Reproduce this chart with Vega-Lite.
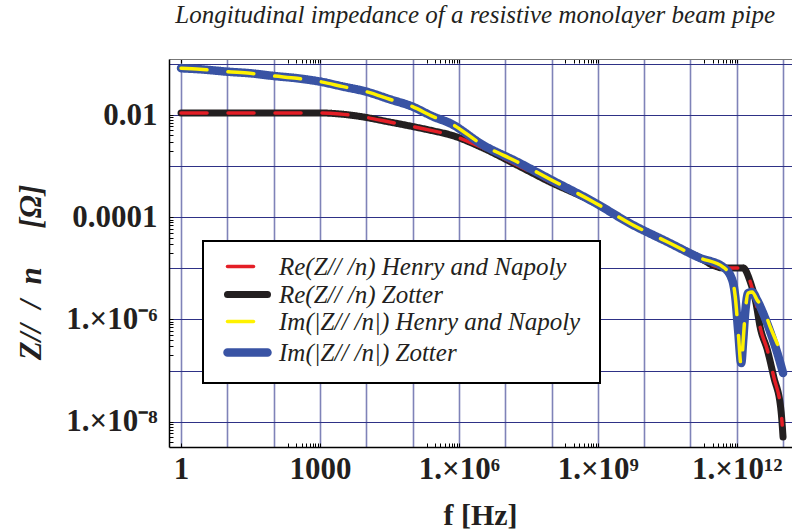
{
  "$schema": "https://vega.github.io/schema/vega-lite/v6.json",
  "width": 623,
  "height": 388,
  "autosize": "none",
  "padding": {"left": 169, "top": 59, "right": 0, "bottom": 84},
  "background": "white",
  "title": {"text": "Longitudinal impedance of a resistive monolayer beam pipe", "anchor": "end", "frame": "group", "font": "Liberation Serif", "fontStyle": "italic", "fontWeight": "normal", "fontSize": 25, "color": "#231f20", "baseline": "alphabetic", "offset": 0, "dx": -17},
  "data": {"values": [
    {"series": "Re(Z// /n)  Zotter", "f": 1, "z": 0.011},
    {"series": "Re(Z// /n)  Zotter", "f": 31, "z": 0.011},
    {"series": "Re(Z// /n)  Zotter", "f": 1000, "z": 0.011},
    {"series": "Re(Z// /n)  Zotter", "f": 2700, "z": 0.0105},
    {"series": "Re(Z// /n)  Zotter", "f": 8500, "z": 0.0092},
    {"series": "Re(Z// /n)  Zotter", "f": 32000, "z": 0.0073},
    {"series": "Re(Z// /n)  Zotter", "f": 89000, "z": 0.0061},
    {"series": "Re(Z// /n)  Zotter", "f": 280000, "z": 0.0049},
    {"series": "Re(Z// /n)  Zotter", "f": 650000, "z": 0.0041},
    {"series": "Re(Z// /n)  Zotter", "f": 3.3e6, "z": 0.00227},
    {"series": "Re(Z// /n)  Zotter", "f": 1.8e7, "z": 0.00105},
    {"series": "Re(Z// /n)  Zotter", "f": 9.3e7, "z": 4.9e-4},
    {"series": "Re(Z// /n)  Zotter", "f": 7.9e8, "z": 2.0e-4},
    {"series": "Re(Z// /n)  Zotter", "f": 5.2e9, "z": 7.4e-5},
    {"series": "Re(Z// /n)  Zotter", "f": 3.2e10, "z": 3.29e-5},
    {"series": "Re(Z// /n)  Zotter", "f": 1.6e11, "z": 1.6e-5},
    {"series": "Re(Z// /n)  Zotter", "f": 3.4e11, "z": 1.11e-5},
    {"series": "Re(Z// /n)  Zotter", "f": 5.1e11, "z": 1.02e-5},
    {"series": "Re(Z// /n)  Zotter", "f": 1.38e12, "z": 1.02e-5},
    {"series": "Re(Z// /n)  Zotter", "f": 1.9e12, "z": 5.9e-6},
    {"series": "Re(Z// /n)  Zotter", "f": 2.6e12, "z": 2.1e-6},
    {"series": "Re(Z// /n)  Zotter", "f": 3.2e12, "z": 7.1e-7},
    {"series": "Re(Z// /n)  Zotter", "f": 4.6e12, "z": 2.5e-7},
    {"series": "Re(Z// /n)  Zotter", "f": 6.3e12, "z": 7.5e-8},
    {"series": "Re(Z// /n)  Zotter", "f": 9.0e12, "z": 1.69e-8},
    {"series": "Re(Z// /n)  Zotter", "f": 1.0e13, "z": 5.0e-9},

    {"series": "Re(Z// /n)  Henry and Napoly", "f": 1, "z": 0.011},
    {"series": "Re(Z// /n)  Henry and Napoly", "f": 31, "z": 0.011},
    {"series": "Re(Z// /n)  Henry and Napoly", "f": 1000, "z": 0.011},
    {"series": "Re(Z// /n)  Henry and Napoly", "f": 2700, "z": 0.0105},
    {"series": "Re(Z// /n)  Henry and Napoly", "f": 8500, "z": 0.0092},
    {"series": "Re(Z// /n)  Henry and Napoly", "f": 32000, "z": 0.0073},
    {"series": "Re(Z// /n)  Henry and Napoly", "f": 89000, "z": 0.0061},
    {"series": "Re(Z// /n)  Henry and Napoly", "f": 280000, "z": 0.0049},
    {"series": "Re(Z// /n)  Henry and Napoly", "f": 650000, "z": 0.0041},
    {"series": "Re(Z// /n)  Henry and Napoly", "f": 3.3e6, "z": 0.00227},
    {"series": "Re(Z// /n)  Henry and Napoly", "f": 1.8e7, "z": 0.00105},
    {"series": "Re(Z// /n)  Henry and Napoly", "f": 9.3e7, "z": 4.9e-4},
    {"series": "Re(Z// /n)  Henry and Napoly", "f": 7.9e8, "z": 2.0e-4},
    {"series": "Re(Z// /n)  Henry and Napoly", "f": 5.2e9, "z": 7.4e-5},
    {"series": "Re(Z// /n)  Henry and Napoly", "f": 3.2e10, "z": 3.29e-5},
    {"series": "Re(Z// /n)  Henry and Napoly", "f": 1.6e11, "z": 1.6e-5},
    {"series": "Re(Z// /n)  Henry and Napoly", "f": 3.4e11, "z": 1.11e-5},
    {"series": "Re(Z// /n)  Henry and Napoly", "f": 5.1e11, "z": 1.02e-5},
    {"series": "Re(Z// /n)  Henry and Napoly", "f": 1.38e12, "z": 1.02e-5},
    {"series": "Re(Z// /n)  Henry and Napoly", "f": 1.9e12, "z": 5.9e-6},
    {"series": "Re(Z// /n)  Henry and Napoly", "f": 2.6e12, "z": 2.1e-6},
    {"series": "Re(Z// /n)  Henry and Napoly", "f": 3.2e12, "z": 7.1e-7},
    {"series": "Re(Z// /n)  Henry and Napoly", "f": 4.6e12, "z": 2.5e-7},
    {"series": "Re(Z// /n)  Henry and Napoly", "f": 6.3e12, "z": 7.5e-8},
    {"series": "Re(Z// /n)  Henry and Napoly", "f": 9.0e12, "z": 1.69e-8},
    {"series": "Re(Z// /n)  Henry and Napoly", "f": 9.6e12, "z": 8.6e-9},

    {"series": "Im(|Z// /n|)  Zotter", "f": 1, "z": 0.0824},
    {"series": "Im(|Z// /n|)  Zotter", "f": 2.57, "z": 0.0787},
    {"series": "Im(|Z// /n|)  Zotter", "f": 10, "z": 0.0706},
    {"series": "Im(|Z// /n|)  Zotter", "f": 31, "z": 0.0657},
    {"series": "Im(|Z// /n|)  Zotter", "f": 100, "z": 0.0582},
    {"series": "Im(|Z// /n|)  Zotter", "f": 320, "z": 0.0525},
    {"series": "Im(|Z// /n|)  Zotter", "f": 1000, "z": 0.0451},
    {"series": "Im(|Z// /n|)  Zotter", "f": 3160, "z": 0.036},
    {"series": "Im(|Z// /n|)  Zotter", "f": 10000, "z": 0.0287},
    {"series": "Im(|Z// /n|)  Zotter", "f": 32000, "z": 0.0204},
    {"series": "Im(|Z// /n|)  Zotter", "f": 100000, "z": 0.0146},
    {"series": "Im(|Z// /n|)  Zotter", "f": 280000, "z": 0.0093},
    {"series": "Im(|Z// /n|)  Zotter", "f": 650000, "z": 0.0069},
    {"series": "Im(|Z// /n|)  Zotter", "f": 3.3e6, "z": 0.0026},
    {"series": "Im(|Z// /n|)  Zotter", "f": 1.8e7, "z": 0.00122},
    {"series": "Im(|Z// /n|)  Zotter", "f": 1e8, "z": 5.37e-4},
    {"series": "Im(|Z// /n|)  Zotter", "f": 7.9e8, "z": 2.02e-4},
    {"series": "Im(|Z// /n|)  Zotter", "f": 5.2e9, "z": 7.4e-5},
    {"series": "Im(|Z// /n|)  Zotter", "f": 3.2e10, "z": 3.29e-5},
    {"series": "Im(|Z// /n|)  Zotter", "f": 1.6e11, "z": 1.6e-5},
    {"series": "Im(|Z// /n|)  Zotter", "f": 5.1e11, "z": 1.06e-5},
    {"series": "Im(|Z// /n|)  Zotter", "f": 8.0e11, "z": 5.9e-6},
    {"series": "Im(|Z// /n|)  Zotter", "f": 9.3e11, "z": 2.75e-6},
    {"series": "Im(|Z// /n|)  Zotter", "f": 1.07e12, "z": 6.2e-7},
    {"series": "Im(|Z// /n|)  Zotter", "f": 1.25e12, "z": 1.41e-7},
    {"series": "Im(|Z// /n|)  Zotter", "f": 1.38e12, "z": 3.97e-7},
    {"series": "Im(|Z// /n|)  Zotter", "f": 1.52e12, "z": 1.34e-6},
    {"series": "Im(|Z// /n|)  Zotter", "f": 1.77e12, "z": 3.3e-6},
    {"series": "Im(|Z// /n|)  Zotter", "f": 2.15e12, "z": 3.45e-6},
    {"series": "Im(|Z// /n|)  Zotter", "f": 2.75e12, "z": 2.41e-6},
    {"series": "Im(|Z// /n|)  Zotter", "f": 3.7e12, "z": 1.34e-6},
    {"series": "Im(|Z// /n|)  Zotter", "f": 5.3e12, "z": 5.7e-7},
    {"series": "Im(|Z// /n|)  Zotter", "f": 7.4e12, "z": 2.31e-7},
    {"series": "Im(|Z// /n|)  Zotter", "f": 1.0e13, "z": 8.97e-8},

    {"series": "Im(|Z// /n|)  Henry and Napoly", "f": 1, "z": 0.0824},
    {"series": "Im(|Z// /n|)  Henry and Napoly", "f": 2.57, "z": 0.0787},
    {"series": "Im(|Z// /n|)  Henry and Napoly", "f": 10, "z": 0.0706},
    {"series": "Im(|Z// /n|)  Henry and Napoly", "f": 31, "z": 0.0657},
    {"series": "Im(|Z// /n|)  Henry and Napoly", "f": 100, "z": 0.0582},
    {"series": "Im(|Z// /n|)  Henry and Napoly", "f": 320, "z": 0.0525},
    {"series": "Im(|Z// /n|)  Henry and Napoly", "f": 1000, "z": 0.0451},
    {"series": "Im(|Z// /n|)  Henry and Napoly", "f": 3160, "z": 0.036},
    {"series": "Im(|Z// /n|)  Henry and Napoly", "f": 10000, "z": 0.0287},
    {"series": "Im(|Z// /n|)  Henry and Napoly", "f": 32000, "z": 0.0204},
    {"series": "Im(|Z// /n|)  Henry and Napoly", "f": 100000, "z": 0.0146},
    {"series": "Im(|Z// /n|)  Henry and Napoly", "f": 280000, "z": 0.0093},
    {"series": "Im(|Z// /n|)  Henry and Napoly", "f": 650000, "z": 0.0069},
    {"series": "Im(|Z// /n|)  Henry and Napoly", "f": 3.3e6, "z": 0.0026},
    {"series": "Im(|Z// /n|)  Henry and Napoly", "f": 1.8e7, "z": 0.00122},
    {"series": "Im(|Z// /n|)  Henry and Napoly", "f": 1e8, "z": 5.37e-4},
    {"series": "Im(|Z// /n|)  Henry and Napoly", "f": 7.9e8, "z": 2.02e-4},
    {"series": "Im(|Z// /n|)  Henry and Napoly", "f": 5.2e9, "z": 7.4e-5},
    {"series": "Im(|Z// /n|)  Henry and Napoly", "f": 3.2e10, "z": 3.29e-5},
    {"series": "Im(|Z// /n|)  Henry and Napoly", "f": 1.6e11, "z": 1.6e-5},
    {"series": "Im(|Z// /n|)  Henry and Napoly", "f": 5.1e11, "z": 1.06e-5},
    {"series": "Im(|Z// /n|)  Henry and Napoly", "f": 8.0e11, "z": 5.9e-6},
    {"series": "Im(|Z// /n|)  Henry and Napoly", "f": 9.3e11, "z": 2.75e-6},
    {"series": "Im(|Z// /n|)  Henry and Napoly", "f": 1.07e12, "z": 6.2e-7},
    {"series": "Im(|Z// /n|)  Henry and Napoly", "f": 1.25e12, "z": 1.23e-7},
    {"series": "Im(|Z// /n|)  Henry and Napoly", "f": 1.38e12, "z": 3.97e-7},
    {"series": "Im(|Z// /n|)  Henry and Napoly", "f": 1.52e12, "z": 1.34e-6},
    {"series": "Im(|Z// /n|)  Henry and Napoly", "f": 1.77e12, "z": 3.3e-6},
    {"series": "Im(|Z// /n|)  Henry and Napoly", "f": 2.15e12, "z": 3.45e-6},
    {"series": "Im(|Z// /n|)  Henry and Napoly", "f": 2.75e12, "z": 2.41e-6},
    {"series": "Im(|Z// /n|)  Henry and Napoly", "f": 3.7e12, "z": 1.68e-6},
    {"series": "Im(|Z// /n|)  Henry and Napoly", "f": 5.3e12, "z": 7.1e-7},
    {"series": "Im(|Z// /n|)  Henry and Napoly", "f": 7.4e12, "z": 3.47e-7},
    {"series": "Im(|Z// /n|)  Henry and Napoly", "f": 1.0e13, "z": 1.77e-7}
  ]},
  "resolve": {"scale": {"x": "independent", "y": "independent"}, "axis": {"x": "independent", "y": "independent"}},
  "layer": [
    {
      "encoding": {
        "x": {"field": "f", "type": "quantitative", "scale": {"type": "log", "domain": [0.55, 1.56e13], "nice": false},
          "axis": {"orient": "bottom", "values": [1, 10, 100, 1000, 10000, 100000, 1e6, 1e7, 1e8, 1e9, 1e10, 1e11, 1e12, 1e13],
            "labelExpr": "round(log(datum.value)/LN10)==0 ? '1' : round(log(datum.value)/LN10)==3 ? '1000' : round(log(datum.value)/LN10)==6 ? '1.×10⁶' : round(log(datum.value)/LN10)==9 ? '1.×10⁹' : round(log(datum.value)/LN10)==12 ? '1.×10¹²' : ''",
            "grid": true, "gridColor": "#7f83b8", "gridWidth": 1.6, "tickSize": 0, "domainColor": "#000000", "domainWidth": 1.5,
            "labelFont": "Liberation Serif", "labelFontWeight": "bold", "labelFontSize": 31, "labelColor": "#231f20", "labelPadding": 7, "labelFlush": false, "labelOverlap": false,
            "title": "f [Hz]", "titleFont": "Liberation Serif", "titleFontSize": 30, "titleFontWeight": "bold", "titleColor": "#231f20", "titleX": 311, "titleY": 77, "titleAlign": "center", "titleBaseline": "alphabetic"}},
        "y": {"field": "z", "type": "quantitative", "scale": {"type": "log", "domain": [3.2e-9, 0.125], "nice": false},
          "axis": {"orient": "left", "values": [0.1, 0.01, 0.001, 0.0001, 1e-5, 1e-6, 1e-7, 1e-8],
            "labelExpr": "round(log(datum.value)/LN10)==-2 ? '0.01' : round(log(datum.value)/LN10)==-4 ? '0.0001' : round(log(datum.value)/LN10)==-6 ? '1.×10⁻⁶' : round(log(datum.value)/LN10)==-8 ? '1.×10⁻⁸' : ''",
            "grid": true, "gridColor": "#2e3186", "gridWidth": 1.2, "tickSize": 0, "domainColor": "#000000", "domainWidth": 1.5,
            "labelFont": "Liberation Serif", "labelFontWeight": "bold", "labelFontSize": 31, "labelColor": "#231f20", "labelPadding": 12, "labelFlush": false, "labelOverlap": false,
            "title": "Z//\u00a0\u00a0/\u00a0\u00a0n\u00a0\u00a0\u00a0\u00a0\u00a0[Ω]", "titleFont": "Liberation Serif", "titleFontSize": 31, "titleFontWeight": "bold", "titleFontStyle": "italic", "titleColor": "#231f20", "titleAngle": 270, "titleX": -138, "titleY": 213, "titleAlign": "center", "titleBaseline": "middle"}},
        "color": {"field": "series", "type": "nominal",
          "scale": {"domain": ["Re(Z// /n)  Henry and Napoly", "Re(Z// /n)  Zotter", "Im(|Z// /n|)  Henry and Napoly", "Im(|Z// /n|)  Zotter"], "range": ["#e41e26", "#231f20", "#fff200", "#3953a4"]},
          "legend": {"orient": "none", "legendX": 34, "legendY": 182, "title": null, "fillColor": "white", "strokeColor": "black", "padding": 13,
            "symbolType": "M-2.5,0L2.5,0", "symbolSize": 256, "symbolOffset": 19, "labelOffset": 19, "rowPadding": 0,
            "labelFont": "Liberation Serif", "labelFontStyle": "italic", "labelFontSize": 25, "labelColor": "#231f20", "labelLimit": 500,
            "labelExpr": "datum.label + '\u00a0\u00a0\u00a0\u00a0\u00a0\u00a0'",
            "encode": {"legend": {"update": {"strokeWidth": {"value": 2}}},
              "symbols": {"update": {"strokeDash": {"signal": "indexof(datum.value, 'Henry') >= 0 ? [14, 8] : [1, 0]"}, "strokeWidth": {"signal": "indexof(datum.value, 'Henry') >= 0 ? 3.5 : 5"}, "strokeCap": {"value": "round"}}}}}},
        "strokeDash": {"field": "series", "type": "nominal", "legend": null,
          "scale": {"domain": ["Re(Z// /n)  Henry and Napoly", "Re(Z// /n)  Zotter", "Im(|Z// /n|)  Henry and Napoly", "Im(|Z// /n|)  Zotter"], "range": [[26, 21], [1, 0], [26, 21], [1, 0]]}},
        "strokeWidth": {"field": "series", "type": "nominal", "legend": null,
          "scale": {"type": "ordinal", "domain": ["Re(Z// /n)  Henry and Napoly", "Re(Z// /n)  Zotter", "Im(|Z// /n|)  Henry and Napoly", "Im(|Z// /n|)  Zotter"], "range": [3.5, 7, 3.5, 8.5]}}
      },
      "layer": [
        {"transform": [{"filter": "datum.series == 'Re(Z// /n)  Zotter'"}], "mark": {"type": "line", "interpolate": "monotone", "strokeCap": "round", "strokeJoin": "round"}},
        {"transform": [{"filter": "datum.series == 'Re(Z// /n)  Henry and Napoly'"}], "mark": {"type": "line", "interpolate": "monotone", "strokeCap": "round", "strokeJoin": "round"}},
        {"transform": [{"filter": "datum.series == 'Im(|Z// /n|)  Zotter'"}], "mark": {"type": "line", "interpolate": "monotone", "strokeCap": "round", "strokeJoin": "round"}},
        {"transform": [{"filter": "datum.series == 'Im(|Z// /n|)  Henry and Napoly'"}], "mark": {"type": "line", "interpolate": "monotone", "strokeCap": "round", "strokeJoin": "round"}}
      ]
    },
    {
      "mark": {"type": "point", "opacity": 0},
      "encoding": {
        "x": {"field": "f", "type": "quantitative", "scale": {"type": "log", "domain": [0.55, 1.56e13], "nice": false},
          "axis": {"orient": "top", "values": [1, 200, 300, 400, 500, 600, 700, 800, 900, 1000, 200000, 300000, 400000, 500000, 600000, 700000, 800000, 900000, 1e6, 2e8, 3e8, 4e8, 5e8, 6e8, 7e8, 8e8, 9e8, 1e9, 2e11, 3e11, 4e11, 5e11, 6e11, 7e11, 8e11, 9e11, 1e12],
            "labels": false, "grid": false, "tickSize": -4, "tickColor": "#000000", "tickWidth": 1, "domainColor": "#777777", "domainWidth": 1.2, "title": null}},
        "y": {"field": "z", "type": "quantitative", "scale": {"type": "log", "domain": [3.2e-9, 0.125], "nice": false},
          "axis": {"orient": "left", "values": [0.002, 0.003, 0.004, 0.005, 0.006, 0.007, 0.008, 0.009, 0.01, 2e-5, 3e-5, 4e-5, 5e-5, 6e-5, 7e-5, 8e-5, 9e-5, 0.0001, 2e-7, 3e-7, 4e-7, 5e-7, 6e-7, 7e-7, 8e-7, 9e-7, 1e-6, 4e-9, 5e-9, 6e-9, 7e-9, 8e-9, 9e-9, 1e-8],
            "labels": false, "grid": false, "tickSize": -4, "tickColor": "#000000", "tickWidth": 1, "domain": false, "title": null}}
      }
    },
    {
      "mark": {"type": "point", "opacity": 0},
      "encoding": {
        "x": {"field": "f", "type": "quantitative", "scale": {"type": "log", "domain": [0.55, 1.56e13], "nice": false},
          "axis": {"orient": "bottom", "values": [1, 200, 300, 400, 500, 600, 700, 800, 900, 1000, 200000, 300000, 400000, 500000, 600000, 700000, 800000, 900000, 1e6, 2e8, 3e8, 4e8, 5e8, 6e8, 7e8, 8e8, 9e8, 1e9, 2e11, 3e11, 4e11, 5e11, 6e11, 7e11, 8e11, 9e11, 1e12],
            "labels": false, "grid": false, "tickSize": -4, "tickColor": "#000000", "tickWidth": 1, "domain": false, "title": null}},
        "y": {"field": "z", "type": "quantitative", "scale": {"type": "log", "domain": [3.2e-9, 0.125], "nice": false}, "axis": null}
      }
    }
  ],
  "config": {"view": {"stroke": null}, "font": "Liberation Serif"}
}
